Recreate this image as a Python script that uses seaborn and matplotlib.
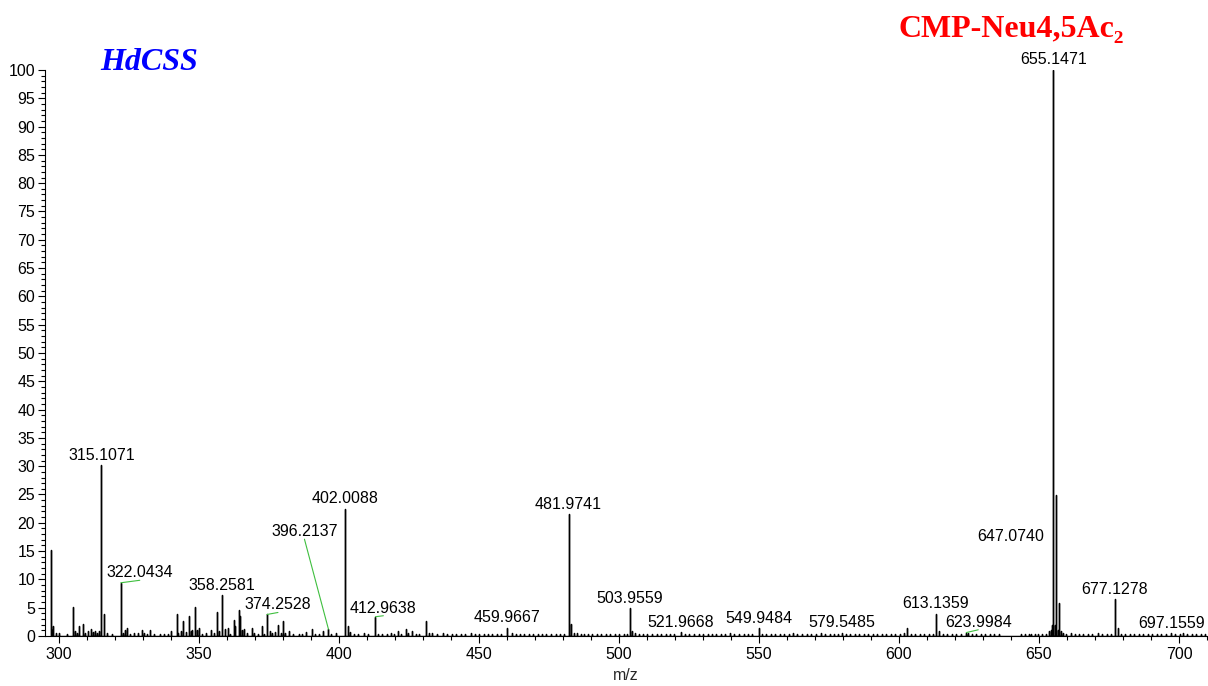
import matplotlib
matplotlib.use("Agg")
import matplotlib.pyplot as plt
from matplotlib.ticker import MultipleLocator
import numpy as np
import pandas as pd
import seaborn as sns

# ---- data -----------------------------------------------------------------
# labelled peaks (m/z, relative abundance %)
label_mz = [315.1071, 322.0434, 358.2581, 374.2528, 396.2137, 402.0088,
            412.9638, 459.9667, 481.9741, 503.9559, 521.9668, 549.9484,
            579.5485, 613.1359, 623.9984, 647.0740, 655.1471, 677.1278,
            697.1559]
label_int = [30.2, 9.4, 7.2, 3.8, 1.2, 22.5,
             3.4, 1.5, 21.5, 4.9, 0.7, 1.4,
             0.6, 3.9, 0.6, 0.4, 100.0, 6.5,
             0.5]

# other resolved peaks
peak_mz = [297.0, 297.6, 298.0, 299.0, 300.1, 303.0, 305.0, 305.8, 306.5,
           307.1, 308.5, 309.3, 310.2, 311.3, 312.0, 312.7, 313.5, 314.2,
           316.2, 317.2, 319.0, 322.8, 323.6, 324.4, 325.5, 326.8, 328.3,
           329.5, 330.2, 331.4, 332.5, 334.0, 336.0, 337.6, 339.0, 340.0,
           342.0, 342.6, 343.5, 344.2, 345.3, 346.3, 347.0, 347.6, 348.5,
           349.3, 350.1, 351.0, 352.5, 354.4, 355.5, 356.4, 357.1, 359.3,
           360.2, 361.0, 362.4, 363.0, 364.2, 364.6, 365.2, 366.2, 367.3,
           368.8, 369.5, 371.0, 372.4, 373.2, 375.4, 376.2, 377.0, 378.3,
           379.2, 380.0, 380.8, 382.0, 383.5, 385.6, 386.9, 388.2, 390.2,
           391.5, 393.0, 394.2, 395.9, 397.2, 398.9, 403.1, 404.0, 405.4,
           406.8, 408.8, 410.5, 414.0, 415.3, 417.0, 418.5, 419.5, 421.2,
           422.3, 423.8, 424.6, 426.0, 427.5, 428.5, 431.1, 432.1, 433.2,
           435.0, 437.0, 461.8, 482.97, 483.9, 504.7, 505.8, 539.6, 562.0,
           572.0, 601.9, 603.0, 614.2, 624.8, 653.7, 654.3, 654.7, 655.6,
           656.1, 656.6, 657.25, 657.8, 658.5, 659.6, 661.3, 671.1, 678.1,
           701.5]
peak_int = [15.2, 1.0, 1.8, 0.5, 0.6, 0.4, 5.1, 0.9, 0.6,
            1.7, 2.1, 0.5, 0.8, 1.2, 0.7, 0.9, 0.6, 0.9,
            3.9, 0.5, 0.4, 0.6, 1.0, 1.4, 0.4, 0.6, 0.5,
            1.1, 0.5, 0.4, 1.0, 0.3, 0.3, 0.3, 0.4, 0.8,
            3.9, 0.6, 0.8, 2.7, 0.7, 3.5, 0.8, 1.0, 5.2,
            1.0, 1.5, 0.4, 0.5, 1.1, 0.5, 4.2, 0.9, 1.2,
            1.4, 0.4, 2.8, 1.8, 4.6, 3.5, 1.0, 1.2, 0.5,
            1.4, 0.5, 0.4, 1.8, 0.4, 0.8, 0.6, 0.7, 1.9,
            0.5, 2.7, 0.6, 0.9, 0.3, 0.4, 0.3, 0.7, 1.2,
            0.4, 0.3, 0.8, 1.0, 0.4, 0.5, 1.8, 0.7, 0.4,
            0.3, 0.5, 0.3, 0.4, 0.4, 0.3, 0.5, 0.4, 0.8,
            0.4, 1.3, 0.5, 0.8, 0.3, 0.4, 2.7, 0.6, 0.5,
            0.3, 0.5, 0.5, 2.1, 0.6, 0.8, 0.6, 0.5, 0.6,
            0.5, 0.6, 1.5, 0.8, 0.5, 0.8, 1.0, 2.0, 2.0,
            24.9, 1.0, 5.8, 0.8, 0.5, 0.4, 0.5, 0.5, 1.5,
            0.5]

# low-level baseline signals
noise_mz = [438.5, 440.2, 441.8, 443.5, 445.0, 447.1, 448.6, 450.0, 451.7,
            453.2, 454.8, 456.4, 458.0, 463.2, 464.5, 466.0, 467.8, 469.2,
            471.0, 472.6, 474.0, 475.7, 477.4, 479.0, 480.5, 485.0, 486.3,
            487.6, 489.0, 490.5, 492.0, 493.5, 495.2, 496.8, 498.5, 500.0,
            501.6, 503.0, 507.0, 508.5, 510.0, 511.8, 513.4, 515.0, 516.6,
            518.2, 519.8, 523.5, 525.0, 526.8, 528.4, 530.0, 531.7, 533.2,
            534.8, 536.5, 538.0, 541.2, 542.8, 544.5, 546.0, 547.6, 551.0,
            552.6, 554.2, 555.8, 557.5, 559.0, 560.6, 563.7, 565.3, 567.0,
            568.5, 570.2, 573.6, 575.2, 576.8, 578.3, 581.0, 582.6, 584.2,
            585.8, 587.4, 589.0, 590.6, 592.2, 593.8, 595.4, 597.0, 598.6,
            600.2, 604.3, 605.8, 607.4, 609.0, 610.6, 612.0, 615.6, 617.2,
            618.8, 620.4, 622.2, 626.0, 627.6, 629.2, 630.8, 632.4, 634.0,
            635.6, 643.4, 645.0, 646.3, 648.4, 649.8, 651.2, 652.6, 662.8,
            664.2, 665.8, 667.4, 669.0, 672.6, 674.2, 675.7, 679.3, 680.8,
            682.4, 684.0, 685.6, 687.2, 688.8, 690.4, 692.0, 693.6, 695.2,
            698.6, 700.2, 703.0, 704.6, 706.2, 707.8, 709.4]
noise_int = [0.3, 0.4, 0.3, 0.4, 0.3, 0.5, 0.3, 0.3, 0.4,
             0.3, 0.3, 0.4, 0.3, 0.3, 0.4, 0.3, 0.4, 0.3,
             0.3, 0.4, 0.3, 0.3, 0.3, 0.4, 0.3, 0.5, 0.4,
             0.3, 0.4, 0.3, 0.4, 0.3, 0.4, 0.3, 0.3, 0.4,
             0.3, 0.4, 0.4, 0.3, 0.3, 0.3, 0.4, 0.3, 0.3,
             0.4, 0.3, 0.3, 0.4, 0.3, 0.3, 0.4, 0.3, 0.4,
             0.3, 0.4, 0.3, 0.3, 0.4, 0.3, 0.3, 0.4, 0.4,
             0.3, 0.4, 0.3, 0.3, 0.4, 0.3, 0.3, 0.4, 0.3,
             0.3, 0.4, 0.3, 0.3, 0.4, 0.3, 0.3, 0.4, 0.3,
             0.3, 0.4, 0.3, 0.4, 0.3, 0.3, 0.4, 0.3, 0.3,
             0.4, 0.4, 0.3, 0.4, 0.3, 0.3, 0.4, 0.4, 0.3,
             0.3, 0.4, 0.3, 0.3, 0.4, 0.3, 0.3, 0.4, 0.3,
             0.3, 0.3, 0.4, 0.3, 0.3, 0.4, 0.3, 0.4, 0.3,
             0.4, 0.3, 0.3, 0.4, 0.3, 0.4, 0.3, 0.4, 0.3,
             0.4, 0.3, 0.3, 0.4, 0.3, 0.4, 0.3, 0.3, 0.4,
             0.3, 0.4, 0.3, 0.4, 0.3, 0.3, 0.4]

x_ticks = [300, 350, 400, 450, 500, 550, 600, 650, 700]
y_ticks = list(range(0, 101, 5))

sample_title = "HdCSS"
compound_title = "CMP-Neu4,5Ac\u2082"

# ---- build stick spectrum ---------------------------------------------------
mz_all = np.array(label_mz + peak_mz + noise_mz)
int_all = np.array(label_int + peak_int + noise_int)
order = np.argsort(mz_all)
mz_all, int_all = mz_all[order], int_all[order]

xs, ys = [], []
for m, i in zip(mz_all, int_all):
    xs += [m, m, m]
    ys += [0.0, i, 0.0]
spectrum = pd.DataFrame({"m/z": xs, "abundance": ys})

# ---- style ------------------------------------------------------------------
sns.set_theme(style="ticks")
plt.rcParams["font.family"] = ["Liberation Sans", "DejaVu Sans"]
plt.rcParams.update({
    "axes.edgecolor": "black",
    "axes.linewidth": 0.8,
    "xtick.color": "black",
    "ytick.color": "black",
    "xtick.labelsize": 11.5,
    "ytick.labelsize": 11.5,
    "xtick.direction": "out",
    "ytick.direction": "out",
    "xtick.major.size": 5.2,
    "ytick.major.size": 5.2,
    "xtick.minor.size": 3.0,
    "ytick.minor.size": 3.0,
    "xtick.major.width": 0.8,
    "ytick.major.width": 0.8,
    "xtick.minor.width": 0.8,
    "ytick.minor.width": 0.8,
    "xtick.major.pad": 3,
    "ytick.major.pad": 2,
})

fig = plt.figure(figsize=(12.08, 6.86), dpi=100)
ax = fig.add_axes([0.0373, 0.0729, 0.9619, 0.8251])

sns.lineplot(data=spectrum, x="m/z", y="abundance", sort=False,
             estimator=None, color="black", linewidth=1.0, ax=ax)

ax.set_xlim(295, 710)
ax.set_ylim(0, 100)
ax.set_xticks(x_ticks)
ax.set_yticks(y_ticks)
ax.xaxis.set_minor_locator(MultipleLocator(10))
ax.yaxis.set_minor_locator(MultipleLocator(1))
ax.set_xlabel("m/z", fontsize=11.5, labelpad=4)
ax.set_ylabel("")
sns.despine(ax=ax)

# ---- peak annotations -------------------------------------------------------
# label centre offset from peak apex in pixels (dx, dy); leader line drawn
# where the label is pushed sideways
label_shift = {
    322.0434: (19, 10, True),
    374.2528: (11, 9.5, True),
    396.2137: (-24, 97.5, True),
    412.9638: (8, 8.5, True),
    623.9984: (12, 10.3, True),
    647.0740: (-20, 97, False),
}
for m, i in zip(label_mz, label_int):
    dx, dy, leader = label_shift.get(m, (0, 10, False))
    arrow = None
    if leader:
        arrow = dict(arrowstyle="-", color="#3fbf3f", lw=0.8,
                     shrinkA=0, shrinkB=0, patchA=None, relpos=(0.5, 0.0))
    ax.annotate(f"{m:.4f}", xy=(m, i), xytext=(dx, dy),
                textcoords="offset pixels", ha="center", va="center",
                fontsize=11.5, color="black", arrowprops=arrow,
                annotation_clip=False)

# ---- titles -----------------------------------------------------------------
fig.text(0.0828, 1 - 70.5 / 686, sample_title, color="#0000ff",
         fontsize=23, fontweight="bold", fontstyle="italic",
         family=["Liberation Serif", "DejaVu Serif"],
         ha="left", va="baseline")
fig.text(0.7442, 1 - 37 / 686, compound_title, color="#ff0000",
         fontsize=23, fontweight="bold",
         family=["Liberation Serif", "DejaVu Serif"],
         ha="left", va="baseline")

fig.savefig("out.png", dpi=100)
